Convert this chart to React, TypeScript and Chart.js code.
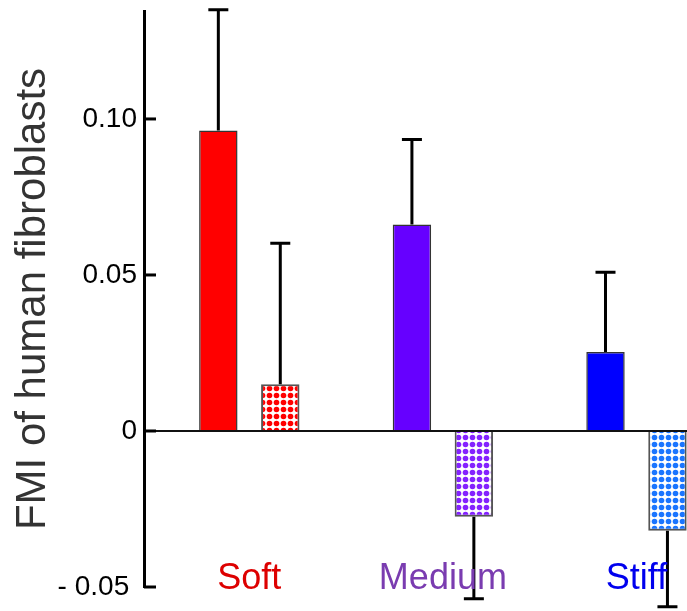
import React, { useEffect, useRef } from 'react';
import { Chart, registerables } from 'chart.js';

Chart.register(...registerables);

const FONT = "'Liberation Sans', Arial, Helvetica, sans-serif";

const categories = ['Soft', 'Medium', 'Stiff'];
const labelColors = ['#dd0000', '#7a3cb0', '#0000ee'];

const solidValues = [0.0963, 0.0662, 0.0253];
const solidErrors = [0.0387, 0.0272, 0.0256];
const solidColors = ['#ff0000', '#6600ff', '#0000ff'];

const dottedValues = [0.015, -0.0275, -0.032];
const dottedErrors = [0.0452, 0.0263, 0.0243];
const dotColors = ['#ff0000', '#8422ff', '#1a75ff'];

const yTickValues = [-0.05, 0, 0.05, 0.1];
const yTickLabels = ['- 0.05 ', '0', '0.05', '0.10'];

const yTitle = 'FMI of human fibroblasts';

function makeDots(color: string): CanvasPattern | string {
  const c = document.createElement('canvas');
  c.width = 7;
  c.height = 7;
  const g = c.getContext('2d');
  if (!g) return '#fff';
  g.fillStyle = '#ffffff';
  g.fillRect(0, 0, 7, 7);
  g.fillStyle = color;
  g.beginPath();
  g.arc(3.5, 3.5, 2.8, 0, Math.PI * 2);
  g.fill();
  const p = g.createPattern(c, 'repeat');
  return p || color;
}

const errorSets = [solidErrors, dottedErrors];

const overlayPlugin = {
  id: 'overlay',
  afterDatasetsDraw(chart: any) {
    const { ctx, chartArea, scales } = chart;
    const x = scales.x;
    const y = scales.y;
    ctx.save();
    // zero line
    const y0 = y.getPixelForValue(0);
    ctx.strokeStyle = '#111';
    ctx.lineWidth = 2;
    ctx.beginPath();
    ctx.moveTo(chartArea.left, y0);
    ctx.lineTo(chartArea.right, y0);
    ctx.stroke();

    // error bars
    ctx.strokeStyle = '#000';
    ctx.lineWidth = 3;
    ctx.lineCap = 'butt';
    chart.data.datasets.forEach((ds: any, di: number) => {
      const meta = chart.getDatasetMeta(di);
      const errs = errorSets[di];
      meta.data.forEach((bar: any, i: number) => {
        const v = ds.data[i].y;
        const e = errs[i];
        const end = y.getPixelForValue(v >= 0 ? v + e : v - e);
        ctx.beginPath();
        ctx.moveTo(bar.x, bar.y);
        ctx.lineTo(bar.x, end);
        ctx.moveTo(bar.x - 10, end);
        ctx.lineTo(bar.x + 10, end);
        ctx.stroke();
      });
    });

    // inward tick marks
    ctx.lineWidth = 3;
    yTickValues.forEach((v) => {
      const py = y.getPixelForValue(v);
      ctx.beginPath();
      ctx.moveTo(chartArea.left, py);
      ctx.lineTo(chartArea.left + 12, py);
      ctx.stroke();
    });

    // category labels
    ctx.font = `36px ${FONT}`;
    ctx.textAlign = 'center';
    ctx.textBaseline = 'alphabetic';
    categories.forEach((c, i) => {
      ctx.fillStyle = labelColors[i];
      ctx.fillText(c, x.getPixelForValue(i), y.bottom + 2);
    });
    ctx.restore();
  },
};

export default function App() {
  const ref = useRef<HTMLCanvasElement | null>(null);

  useEffect(() => {
    if (!ref.current) return;
    const chart = new Chart(ref.current, {
      type: 'bar',
      data: {
        datasets: [
          {
            label: 'solid',
            data: solidValues.map((v, i) => ({ x: i, y: v })),
            backgroundColor: solidColors,
            borderColor: '#333',
            borderWidth: 1.5,
          },
          {
            label: 'dotted',
            data: dottedValues.map((v, i) => ({ x: i, y: v })),
            backgroundColor: dotColors.map((c) => makeDots(c)),
            borderColor: '#555',
            borderWidth: 2,
          },
        ],
      } as any,
      options: {
        responsive: false,
        animation: false,
        categoryPercentage: 0.64,
        barPercentage: 0.62,
        layout: { padding: { top: 11, bottom: 24, left: 0, right: 0 } },
        plugins: {
          legend: { display: false },
          tooltip: { enabled: false },
        },
        scales: {
          x: {
            type: 'linear',
            display: false,
            offset: false,
            min: -0.544,
            max: 2.261,
            grid: { display: false, offset: false },
            afterBuildTicks: (s: any) => {
              s.ticks = categories.map((_, i) => ({ value: i }));
            },
          },
          y: {
            min: -0.05,
            max: 0.1346,
            afterFit: (s: any) => {
              s.width = 144;
              s.paddingTop = 0;
              s.paddingBottom = 0;
            },
            afterBuildTicks: (s: any) => {
              s.ticks = yTickValues.map((v) => ({ value: v }));
            },
            grid: { display: false, drawTicks: false },
            border: { display: true, color: '#000', width: 3 },
            ticks: {
              padding: 7,
              color: '#000',
              font: { size: 28, family: FONT },
              callback: (v: any) => {
                const idx = yTickValues.findIndex((t) => Math.abs(t - Number(v)) < 1e-9);
                return idx >= 0 ? yTickLabels[idx] : '';
              },
            },
            title: {
              display: true,
              text: yTitle,
              color: '#333',
              font: { size: 42, family: FONT },
              padding: { top: 8, bottom: 0 },
            },
          },
        },
      } as any,
      plugins: [overlayPlugin],
    });
    return () => chart.destroy();
  }, []);

  return (
    <div style={{ position: 'absolute', left: 0, top: 0, width: 687, height: 611, background: '#fff' }}>
      <canvas ref={ref} width={687} height={611} />
    </div>
  );
}
